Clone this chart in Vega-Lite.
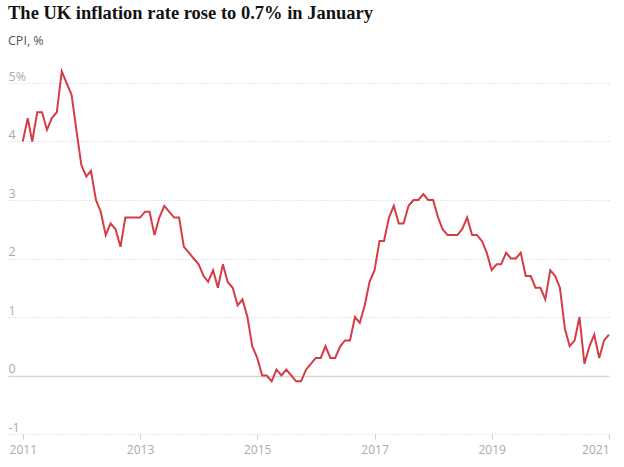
{
  "$schema": "https://vega.github.io/schema/vega-lite/v6.json",
  "width": 601,
  "height": 351,
  "autosize": {"type": "none"},
  "padding": {"left": 8, "top": 83, "right": 15, "bottom": 33},
  "background": "white",
  "config": {"view": {"stroke": null}, "font": "Open Sans"},
  "title": {
    "text": "The UK inflation rate rose to 0.7% in January",
    "subtitle": "CPI, %",
    "anchor": "start",
    "frame": "group",
    "font": "Liberation Serif",
    "fontSize": 18.5,
    "fontWeight": "bold",
    "color": "#121212",
    "subtitleFont": "Open Sans",
    "subtitleFontSize": 12.5,
    "subtitleColor": "#555555",
    "subtitlePadding": 12,
    "offset": 20
  },
  "data": {
    "values": [
      {"date": "2011-01-01", "cpi": 4.0}, {"date": "2011-02-01", "cpi": 4.4}, {"date": "2011-03-01", "cpi": 4.0}, {"date": "2011-04-01", "cpi": 4.5}, {"date": "2011-05-01", "cpi": 4.5}, {"date": "2011-06-01", "cpi": 4.2}, {"date": "2011-07-01", "cpi": 4.4}, {"date": "2011-08-01", "cpi": 4.5}, {"date": "2011-09-01", "cpi": 5.2}, {"date": "2011-10-01", "cpi": 5.0}, {"date": "2011-11-01", "cpi": 4.8}, {"date": "2011-12-01", "cpi": 4.2},
      {"date": "2012-01-01", "cpi": 3.6}, {"date": "2012-02-01", "cpi": 3.4}, {"date": "2012-03-01", "cpi": 3.5}, {"date": "2012-04-01", "cpi": 3.0}, {"date": "2012-05-01", "cpi": 2.8}, {"date": "2012-06-01", "cpi": 2.4}, {"date": "2012-07-01", "cpi": 2.6}, {"date": "2012-08-01", "cpi": 2.5}, {"date": "2012-09-01", "cpi": 2.2}, {"date": "2012-10-01", "cpi": 2.7}, {"date": "2012-11-01", "cpi": 2.7}, {"date": "2012-12-01", "cpi": 2.7},
      {"date": "2013-01-01", "cpi": 2.7}, {"date": "2013-02-01", "cpi": 2.8}, {"date": "2013-03-01", "cpi": 2.8}, {"date": "2013-04-01", "cpi": 2.4}, {"date": "2013-05-01", "cpi": 2.7}, {"date": "2013-06-01", "cpi": 2.9}, {"date": "2013-07-01", "cpi": 2.8}, {"date": "2013-08-01", "cpi": 2.7}, {"date": "2013-09-01", "cpi": 2.7}, {"date": "2013-10-01", "cpi": 2.2}, {"date": "2013-11-01", "cpi": 2.1}, {"date": "2013-12-01", "cpi": 2.0},
      {"date": "2014-01-01", "cpi": 1.9}, {"date": "2014-02-01", "cpi": 1.7}, {"date": "2014-03-01", "cpi": 1.6}, {"date": "2014-04-01", "cpi": 1.8}, {"date": "2014-05-01", "cpi": 1.5}, {"date": "2014-06-01", "cpi": 1.9}, {"date": "2014-07-01", "cpi": 1.6}, {"date": "2014-08-01", "cpi": 1.5}, {"date": "2014-09-01", "cpi": 1.2}, {"date": "2014-10-01", "cpi": 1.3}, {"date": "2014-11-01", "cpi": 1.0}, {"date": "2014-12-01", "cpi": 0.5},
      {"date": "2015-01-01", "cpi": 0.3}, {"date": "2015-02-01", "cpi": 0.0}, {"date": "2015-03-01", "cpi": 0.0}, {"date": "2015-04-01", "cpi": -0.1}, {"date": "2015-05-01", "cpi": 0.1}, {"date": "2015-06-01", "cpi": 0.0}, {"date": "2015-07-01", "cpi": 0.1}, {"date": "2015-08-01", "cpi": 0.0}, {"date": "2015-09-01", "cpi": -0.1}, {"date": "2015-10-01", "cpi": -0.1}, {"date": "2015-11-01", "cpi": 0.1}, {"date": "2015-12-01", "cpi": 0.2},
      {"date": "2016-01-01", "cpi": 0.3}, {"date": "2016-02-01", "cpi": 0.3}, {"date": "2016-03-01", "cpi": 0.5}, {"date": "2016-04-01", "cpi": 0.3}, {"date": "2016-05-01", "cpi": 0.3}, {"date": "2016-06-01", "cpi": 0.5}, {"date": "2016-07-01", "cpi": 0.6}, {"date": "2016-08-01", "cpi": 0.6}, {"date": "2016-09-01", "cpi": 1.0}, {"date": "2016-10-01", "cpi": 0.9}, {"date": "2016-11-01", "cpi": 1.2}, {"date": "2016-12-01", "cpi": 1.6},
      {"date": "2017-01-01", "cpi": 1.8}, {"date": "2017-02-01", "cpi": 2.3}, {"date": "2017-03-01", "cpi": 2.3}, {"date": "2017-04-01", "cpi": 2.7}, {"date": "2017-05-01", "cpi": 2.9}, {"date": "2017-06-01", "cpi": 2.6}, {"date": "2017-07-01", "cpi": 2.6}, {"date": "2017-08-01", "cpi": 2.9}, {"date": "2017-09-01", "cpi": 3.0}, {"date": "2017-10-01", "cpi": 3.0}, {"date": "2017-11-01", "cpi": 3.1}, {"date": "2017-12-01", "cpi": 3.0},
      {"date": "2018-01-01", "cpi": 3.0}, {"date": "2018-02-01", "cpi": 2.7}, {"date": "2018-03-01", "cpi": 2.5}, {"date": "2018-04-01", "cpi": 2.4}, {"date": "2018-05-01", "cpi": 2.4}, {"date": "2018-06-01", "cpi": 2.4}, {"date": "2018-07-01", "cpi": 2.5}, {"date": "2018-08-01", "cpi": 2.7}, {"date": "2018-09-01", "cpi": 2.4}, {"date": "2018-10-01", "cpi": 2.4}, {"date": "2018-11-01", "cpi": 2.3}, {"date": "2018-12-01", "cpi": 2.1},
      {"date": "2019-01-01", "cpi": 1.8}, {"date": "2019-02-01", "cpi": 1.9}, {"date": "2019-03-01", "cpi": 1.9}, {"date": "2019-04-01", "cpi": 2.1}, {"date": "2019-05-01", "cpi": 2.0}, {"date": "2019-06-01", "cpi": 2.0}, {"date": "2019-07-01", "cpi": 2.1}, {"date": "2019-08-01", "cpi": 1.7}, {"date": "2019-09-01", "cpi": 1.7}, {"date": "2019-10-01", "cpi": 1.5}, {"date": "2019-11-01", "cpi": 1.5}, {"date": "2019-12-01", "cpi": 1.3},
      {"date": "2020-01-01", "cpi": 1.8}, {"date": "2020-02-01", "cpi": 1.7}, {"date": "2020-03-01", "cpi": 1.5}, {"date": "2020-04-01", "cpi": 0.8}, {"date": "2020-05-01", "cpi": 0.5}, {"date": "2020-06-01", "cpi": 0.6}, {"date": "2020-07-01", "cpi": 1.0}, {"date": "2020-08-01", "cpi": 0.2}, {"date": "2020-09-01", "cpi": 0.5}, {"date": "2020-10-01", "cpi": 0.7}, {"date": "2020-11-01", "cpi": 0.3}, {"date": "2020-12-01", "cpi": 0.6},
      {"date": "2021-01-01", "cpi": 0.7}
    ]
  },
  "mark": {"type": "line", "color": "#d63c45", "strokeWidth": 2, "interpolate": "linear"},
  "encoding": {
    "x": {
      "field": "date",
      "type": "temporal",
      "scale": {"type": "utc", "domain": [{"year": 2010, "month": 10, "date": 1, "utc": true}, {"year": 2021, "month": 1, "date": 1, "utc": true}]},
      "axis": {
        "title": null,
        "values": [
          {"year": 2011, "month": 1, "date": 1, "utc": true},
          {"year": 2013, "month": 1, "date": 1, "utc": true},
          {"year": 2015, "month": 1, "date": 1, "utc": true},
          {"year": 2017, "month": 1, "date": 1, "utc": true},
          {"year": 2019, "month": 1, "date": 1, "utc": true},
          {"year": 2021, "month": 1, "date": 1, "utc": true}
        ],
        "format": "%Y",
        "domain": false,
        "grid": false,
        "ticks": true,
        "tickSize": 5,
        "tickColor": "#cccccc",
        "labelFlush": true,
        "labelColor": "#aaaaaa",
        "labelFontSize": 12,
        "labelPadding": 5
      }
    },
    "y": {
      "field": "cpi",
      "type": "quantitative",
      "scale": {"domain": [-1, 5], "nice": false, "zero": false},
      "axis": {
        "title": null,
        "values": [-1, 0, 1, 2, 3, 4, 5],
        "labelExpr": "datum.value == 5 ? '5%' : '' + datum.value",
        "domain": false,
        "ticks": false,
        "labelAlign": "left",
        "labelBaseline": "bottom",
        "labelPadding": 0,
        "labelDx": 0,
        "labelDy": -3,
        "labelColor": "#aaaaaa",
        "labelFontSize": 12.5,
        "grid": true,
        "gridColor": {"condition": {"test": "datum.value === 0", "value": "#d6d6d6"}, "value": "#d0d0d0"},
        "gridDash": {"condition": {"test": "datum.value === 0", "value": []}, "value": [1, 2]},
        "gridWidth": {"condition": {"test": "datum.value === 0", "value": 1.5}, "value": 1}
      }
    }
  }
}
